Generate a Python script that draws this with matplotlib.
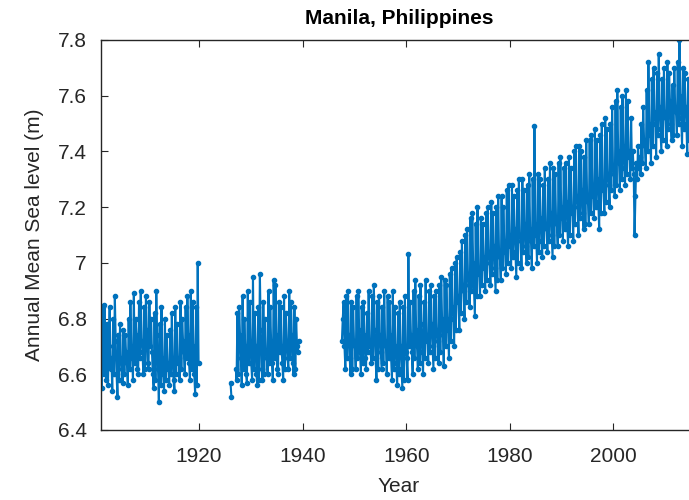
import numpy as np
import matplotlib
matplotlib.use("Agg")
import matplotlib.pyplot as plt
from matplotlib.ticker import FormatStrFormatter

# bi-monthly sea level readings (m), one row per year
seg1_start = 1901
seg1 = [
    [6.62, 6.55, 6.84, 6.60, 6.85, 6.70],
    [6.58, 6.78, 6.56, 6.70, 6.84, 6.62],
    [6.66, 6.54, 6.80, 6.60, 6.88, 6.72],
    [6.60, 6.52, 6.74, 6.58, 6.78, 6.66],
    [6.62, 6.57, 6.76, 6.60, 6.74, 6.68],
    [6.64, 6.56, 6.80, 6.62, 6.86, 6.70],
    [6.66, 6.58, 6.89, 6.64, 6.80, 6.74],
    [6.62, 6.60, 6.86, 6.66, 6.90, 6.72],
    [6.68, 6.60, 6.84, 6.62, 6.88, 6.76],
    [6.64, 6.62, 6.86, 6.70, 6.80, 6.68],
    [6.60, 6.55, 6.82, 6.58, 6.90, 6.74],
    [6.62, 6.50, 6.78, 6.56, 6.84, 6.66],
    [6.60, 6.54, 6.80, 6.58, 6.74, 6.64],
    [6.62, 6.56, 6.76, 6.60, 6.82, 6.66],
    [6.58, 6.54, 6.84, 6.60, 6.78, 6.64],
    [6.66, 6.58, 6.86, 6.62, 6.80, 6.72],
    [6.68, 6.60, 6.84, 6.66, 6.88, 6.74],
    [6.64, 6.58, 6.90, 6.62, 6.86, 6.70],
    [6.60, 6.53, 6.84, 6.56, 7.00, 6.64],
]

seg2_start = 1926
seg2 = [
    [6.57, 6.52],
]

seg3_start = 1927
seg3 = [
    [6.62, 6.58, 6.82, 6.60, 6.84, 6.74],
    [6.66, 6.56, 6.88, 6.62, 6.80, 6.70],
    [6.60, 6.57, 6.90, 6.64, 6.86, 6.72],
    [6.64, 6.58, 6.95, 6.62, 6.82, 6.70],
    [6.60, 6.56, 6.84, 6.58, 6.96, 6.76],
    [6.62, 6.58, 6.86, 6.60, 6.80, 6.68],
    [6.66, 6.60, 6.90, 6.64, 6.84, 6.72],
    [6.64, 6.58, 6.94, 6.66, 6.92, 6.74],
    [6.62, 6.60, 6.86, 6.68, 6.84, 6.70],
    [6.64, 6.58, 6.88, 6.62, 6.82, 6.72],
    [6.66, 6.62, 6.90, 6.66, 6.86, 6.74],
    [6.64, 6.60, 6.84, 6.62, 6.80, 6.70],
    [6.68, 6.72],
]

# 1947 only has the second half of the year
seg4_start = 1947
seg4_first = [6.72, 6.80, 6.86]
seg4 = [
    [6.70, 6.62, 6.88, 6.66, 6.90, 6.74],
    [6.66, 6.60, 6.86, 6.62, 6.84, 6.72],
    [6.70, 6.62, 6.88, 6.66, 6.90, 6.76],
    [6.68, 6.60, 6.84, 6.64, 6.86, 6.74],
    [6.66, 6.62, 6.82, 6.68, 6.90, 6.72],
    [6.70, 6.64, 6.88, 6.66, 6.92, 6.76],
    [6.66, 6.58, 6.86, 6.62, 6.88, 6.74],
    [6.68, 6.62, 6.84, 6.64, 6.90, 6.72],
    [6.70, 6.60, 6.88, 6.66, 6.86, 6.74],
    [6.66, 6.58, 6.90, 6.62, 6.84, 6.70],
    [6.64, 6.56, 6.82, 6.60, 6.86, 6.70],
    [6.62, 6.55, 6.84, 6.58, 6.88, 6.68],
    [6.66, 6.58, 7.03, 6.70, 6.86, 6.74],
    [6.68, 6.60, 6.90, 6.66, 6.94, 6.76],
    [6.70, 6.62, 6.88, 6.64, 6.92, 6.78],
    [6.68, 6.60, 6.86, 6.66, 6.94, 6.74],
    [6.72, 6.64, 6.90, 6.68, 6.92, 6.78],
    [6.70, 6.62, 6.88, 6.66, 6.90, 6.76],
    [6.72, 6.64, 6.92, 6.68, 6.95, 6.80],
    [6.74, 6.63, 6.94, 6.70, 6.92, 6.80],
    [6.76, 6.66, 6.96, 6.72, 6.98, 6.84],
    [6.80, 6.70, 7.00, 6.76, 7.02, 6.88],
    [6.86, 6.76, 7.04, 6.82, 7.08, 6.92],
    [6.90, 6.80, 7.10, 6.86, 7.12, 6.96],
    [6.92, 6.84, 7.16, 6.90, 7.18, 7.00],
    [6.90, 6.81, 7.14, 6.88, 7.20, 6.98],
    [6.96, 6.88, 7.16, 6.92, 7.14, 7.02],
    [6.98, 6.90, 7.18, 6.94, 7.20, 7.04],
    [7.00, 6.92, 7.22, 6.96, 7.18, 7.06],
    [6.98, 6.90, 7.20, 6.94, 7.24, 7.04],
    [7.02, 6.94, 7.24, 6.98, 7.20, 7.08],
    [7.04, 6.96, 7.26, 7.00, 7.28, 7.10],
    [7.06, 6.98, 7.28, 7.02, 7.24, 7.12],
    [7.04, 6.95, 7.26, 7.00, 7.30, 7.10],
    [7.08, 6.98, 7.30, 7.04, 7.26, 7.14],
    [7.06, 7.00, 7.28, 7.02, 7.32, 7.12],
    [7.08, 6.98, 7.30, 7.06, 7.49, 7.14],
    [7.10, 7.00, 7.32, 7.04, 7.30, 7.16],
    [7.08, 7.02, 7.28, 7.06, 7.34, 7.14],
    [7.12, 7.04, 7.30, 7.08, 7.36, 7.18],
    [7.10, 7.02, 7.34, 7.06, 7.32, 7.16],
    [7.14, 7.06, 7.36, 7.10, 7.38, 7.20],
    [7.16, 7.08, 7.34, 7.12, 7.36, 7.22],
    [7.14, 7.06, 7.38, 7.10, 7.34, 7.20],
    [7.18, 7.08, 7.40, 7.14, 7.42, 7.24],
    [7.20, 7.10, 7.42, 7.16, 7.40, 7.26],
    [7.18, 7.12, 7.38, 7.14, 7.44, 7.24],
    [7.22, 7.14, 7.44, 7.18, 7.46, 7.28],
    [7.24, 7.16, 7.48, 7.20, 7.44, 7.30],
    [7.22, 7.12, 7.46, 7.18, 7.50, 7.28],
    [7.26, 7.18, 7.52, 7.22, 7.48, 7.32],
    [7.28, 7.20, 7.50, 7.26, 7.56, 7.34],
    [7.32, 7.24, 7.58, 7.28, 7.62, 7.40],
    [7.36, 7.26, 7.56, 7.30, 7.60, 7.42],
    [7.34, 7.28, 7.62, 7.32, 7.58, 7.40],
    [7.38, 7.30, 7.52, 7.34, 7.40, 7.32],
    [7.10, 7.24, 7.36, 7.30, 7.42, 7.34],
    [7.38, 7.32, 7.50, 7.36, 7.56, 7.44],
    [7.42, 7.34, 7.62, 7.40, 7.72, 7.50],
    [7.46, 7.36, 7.66, 7.42, 7.70, 7.54],
    [7.50, 7.38, 7.68, 7.46, 7.75, 7.56],
    [7.48, 7.40, 7.66, 7.44, 7.70, 7.54],
    [7.52, 7.42, 7.72, 7.48, 7.68, 7.58],
    [7.50, 7.44, 7.64, 7.46, 7.70, 7.56],
    [7.54, 7.46, 7.72, 7.50, 7.80, 7.60],
    [7.52, 7.42, 7.70, 7.48, 7.68, 7.56],
    [7.50, 7.39, 7.66, 7.44, 7.62, 7.54],
]

x_ticks = [1920, 1940, 1960, 1980, 2000]
y_ticks = [6.4, 6.6, 6.8, 7.0, 7.2, 7.4, 7.6, 7.8]


def rows_to_xy(start, rows, offset=0):
    xs, ys = [], []
    for i, row in enumerate(rows):
        off = offset if i == 0 else 0
        for k, v in enumerate(row):
            xs.append(start + i + (k + off + 0.5) / 6.)
            ys.append(v)
    return xs, ys


plt.rcParams['font.family'] = ['Liberation Sans', 'DejaVu Sans']
blue = '#0072BD'
dark = '#262626'

fig = plt.figure(figsize=(6.89, 5.0), dpi=100)
ax = fig.add_axes([0.146, 0.14, 0.8646, 0.78])

segments = [rows_to_xy(seg1_start, seg1),
            rows_to_xy(seg2_start, seg2),
            rows_to_xy(seg3_start, seg3)]
x4, y4 = rows_to_xy(seg4_start, [seg4_first], offset=3)
x5, y5 = rows_to_xy(seg4_start + 1, seg4)
segments.append((x4 + x5, y4 + y5))

for xs, ys in segments:
    ax.plot(xs, ys, '.-', color=blue, lw=1.5, ms=6)

ax.set_xlim(1901, 2016)
ax.set_ylim(6.4, 7.8)
ax.set_xticks(x_ticks)
ax.set_yticks(y_ticks)
ax.yaxis.set_major_formatter(FormatStrFormatter('%g'))
ax.tick_params(direction='in', length=5, width=0.8, colors=dark,
               labelsize=15, top=True, right=True)
ax.tick_params(axis='x', pad=12)
ax.tick_params(axis='y', pad=10)
for s in ax.spines.values():
    s.set_color(dark)
    s.set_linewidth(1.0)

ax.set_xlabel('Year', fontsize=15, color=dark, labelpad=8)
ax.set_ylabel('Annual Mean Sea level (m)', fontsize=15, color=dark, labelpad=10)
fig.text(0.579, 0.962, 'Manila, Philippines', ha='center', va='center',
         fontsize=15, fontweight='bold', color='black')

fig.savefig('out.png', dpi=100)
